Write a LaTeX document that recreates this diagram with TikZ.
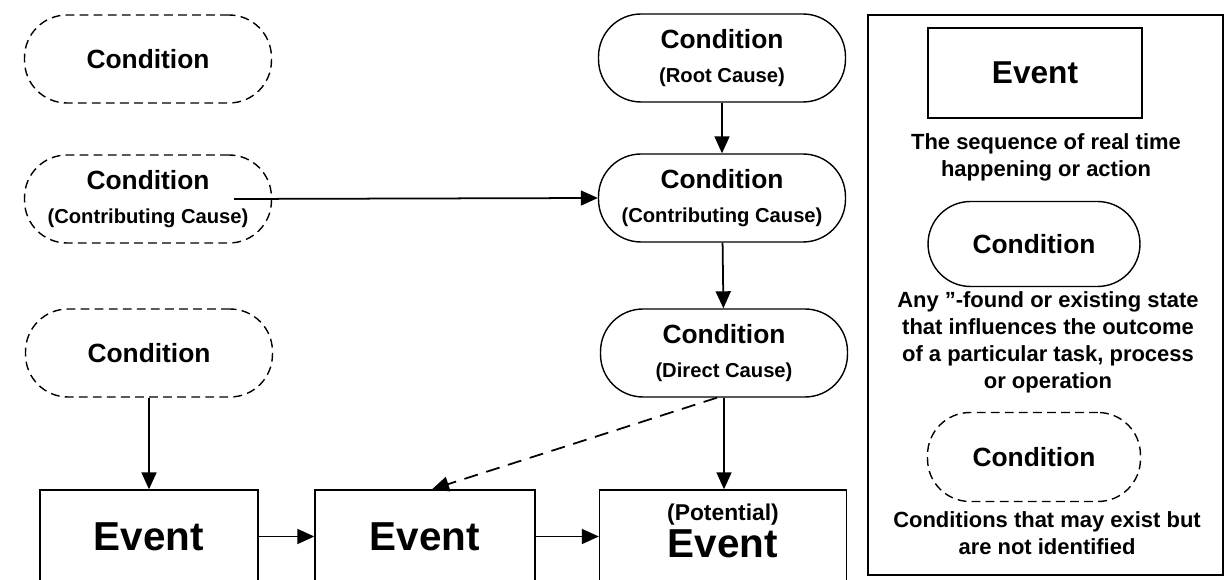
\documentclass[tikz,border=0pt]{standalone}
\usepackage{fontspec}
\setmainfont{Liberation Sans}
\usetikzlibrary{arrows.meta}

\begin{document}
\begin{tikzpicture}[
    x=0.02cm, y=-0.02cm,
    >={Triangle[length=3.4mm, width=3mm]},
    cond/.style={draw, line width=0.8pt, rounded corners=0.85cm, minimum width=4.94cm, minimum height=1.76cm, align=center, font=\fontsize{15}{18}\selectfont\bfseries},
    hidden/.style={cond, dash pattern=on 5pt off 3pt},
    event/.style={draw, line width=0.8pt, minimum height=1.86cm, align=center, font=\fontsize{23}{26}\selectfont\bfseries},
    note/.style={align=center, font=\fontsize{12.5}{15.3}\selectfont\bfseries},
    every edge/.append style={draw, ->, line width=1pt}
]
\clip (0,0) rectangle (1228,580);

% Left column :
\node[hidden] (C1) at (148,59) {Condition};
\node[hidden] (C2) at (148,199) {Condition\\[1pt]{\fontsize{11.5}{14}\selectfont (Contributing Cause)}};
\node[hidden] (C3) at (149,353) {Condition};

% Right column :
\node[cond] (B1) at (722,58) {Condition\\[1pt]{\fontsize{11.5}{14}\selectfont (Root Cause)}};
\node[cond] (B2) at (722,198) {Condition\\[1pt]{\fontsize{11.5}{14}\selectfont (Contributing Cause)}};
\node[cond] (B3) at (724,353) {Condition\\[1pt]{\fontsize{11.5}{14}\selectfont (Direct Cause)}};

% Events :
\node[event, minimum width=4.36cm] (E1) at (149,536.5) {Event};
\node[event, minimum width=4.4cm] (E2) at (425,536.5) {Event};
\node[event, minimum width=4.94cm] (E3) at (723,536.5) {{\fontsize{13}{15}\selectfont (Potential)}\\[-5pt]Event\\[-19pt]\mbox{}};

% Edges :
\draw[->, line width=1pt] ([xshift=-0.76cm]C2.east) -- (B2.west);
\draw[->] (B1) edge (B2);
\draw[->] (B2) edge (B3);
\draw[->] (C3) edge (E1);
\draw[->, line width=1pt] (B3.south) -- (B3.south |- E3.north);
\draw[->] (E1) edge (E2);
\draw[->] (E2) edge (E3);
\draw[->, line width=1pt, dash pattern=on 8pt off 5pt] ([xshift=-0.14cm]B3.south) -- ([xshift=0.14cm]E2.north);

% Legend :
\node[draw, line width=0.8pt, minimum width=7.1cm, minimum height=11.2cm] (key) at (1045.5,295) {};
\node[event, minimum width=4.28cm, minimum height=1.8cm, font=\fontsize{18}{21}\selectfont\bfseries] (kE) at (1035,73) {Event};
\node[note] (kT1) at (1046,157) {The sequence of real time\\happening or action};
\node[cond, minimum width=4.24cm, minimum height=1.7cm] (kC) at (1034,244) {Condition};
\node[note] (kT2) at (1048,342.5) {Any ''-found or existing state\\that influences the outcome\\of a particular task, process\\or operation};
\node[hidden, minimum width=4.26cm, minimum height=1.78cm] (kH) at (1034,457) {Condition};
\node[note] (kT3) at (1047,533.5) {Conditions that may exist but\\are not identified};

\end{tikzpicture}
\end{document}
